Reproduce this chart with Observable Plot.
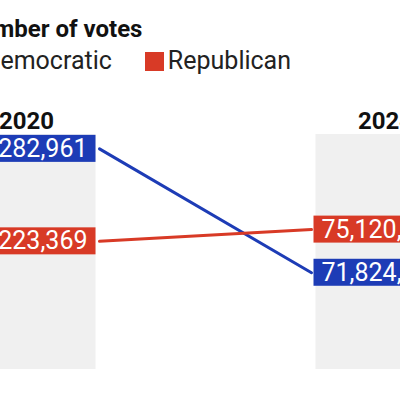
<!DOCTYPE html>
<html>
<head>
<meta charset="utf-8">
<script src="https://cdn.jsdelivr.net/npm/d3@7"></script>
<script src="https://cdn.jsdelivr.net/npm/@observablehq/plot@0.6"></script>
<style>
  html, body { margin: 0; padding: 0; background: #fff; overflow: hidden; }
  body { width: 400px; height: 400px; position: relative; font-family: Roboto, "Noto Sans", sans-serif; color: #111; }
  #wrap { position: absolute; left: -41px; top: 0; width: 520px; height: 400px; }
  #title { position: absolute; left: 4px; top: 15px; font-size: 24px; font-weight: 700; line-height: 28px; white-space: nowrap; color: #111; }
  #legend { position: absolute; left: 2px; top: 46px; font-size: 25px; line-height: 30px; white-space: nowrap; color: #222; }
  .item { display: inline-block; margin-right: 33px; }
  .sw { display: inline-block; width: 19px; height: 19px; vertical-align: -2px; margin-right: 4px; }
  #chart { position: absolute; left: 0; top: 100px; }
</style>
</head>
<body>
<div id="wrap">
  <div id="title"></div>
  <div id="legend"></div>
  <div id="chart"></div>
</div>
<script>
const titleText = "Number of votes";
const years = ["2020", "2024"];
const parties = ["Democratic", "Republican"];
const partyColors = ["#1d3cb6", "#d83a26"];
const democraticVotes = [81282961, 71824000];
const republicanVotes = [74223369, 75120000];

const rows = [];
years.forEach((year, i) => {
  rows.push({year, party: parties[0], votes: democraticVotes[i]});
  rows.push({year, party: parties[1], votes: republicanVotes[i]});
});

document.getElementById("title").textContent = titleText;
const legend = document.getElementById("legend");
parties.forEach((p, i) => {
  const item = document.createElement("span");
  item.className = "item";
  const sw = document.createElement("span");
  sw.className = "sw";
  sw.style.background = partyColors[i];
  item.appendChild(sw);
  item.appendChild(document.createTextNode(p));
  legend.appendChild(item);
});

const fmt = d3.format(",");

const plot = Plot.plot({
  width: 520,
  height: 280,
  marginTop: 34,
  marginBottom: 11,
  marginLeft: 0,
  marginRight: 0,
  style: {fontFamily: "Roboto, 'Noto Sans', sans-serif", background: "transparent"},
  x: {type: "point", domain: years, range: [140, 352], padding: 0, axis: null},
  y: {domain: [64.44e6, 82.38e6], axis: null},
  color: {domain: parties, range: partyColors},
  marks: [
    Plot.tickX([years[0]], {x: d => d, stroke: "#f0f0f0", strokeWidth: 136, dx: -72}),
    Plot.tickX([years[1]], {x: d => d, stroke: "#f0f0f0", strokeWidth: 136, dx: 72}),
    Plot.text([years[0]], {x: d => d, text: d => d, frameAnchor: "top", lineAnchor: "bottom", dy: -6, dx: -73, fontSize: 24, fontWeight: "bold", fill: "#111"}),
    Plot.text([years[1]], {x: d => d, text: d => d, frameAnchor: "top", lineAnchor: "bottom", dy: -6, dx: 74, fontSize: 24, fontWeight: "bold", fill: "#111"}),
    Plot.line(rows, {x: "year", y: "votes", z: "party", stroke: "party", strokeWidth: 3}),
    Plot.text(rows.filter(d => d.year === years[0]), {x: "year", y: "votes", text: d => fmt(d.votes), fill: "party", textAnchor: "end", dx: -12, fontSize: 25}),
    Plot.text(rows.filter(d => d.year === years[1]), {x: "year", y: "votes", text: d => fmt(d.votes), fill: "party", textAnchor: "start", dx: 10, fontSize: 25})
  ]
});
document.getElementById("chart").appendChild(plot);

// label background boxes: value labels are the texts filled with a party colour
const colorSet = new Set(partyColors.map(c => d3.color(c).formatHex()));
plot.querySelectorAll("text").forEach(t => {
  let fill = t.getAttribute("fill") || (t.parentNode && t.parentNode.getAttribute && t.parentNode.getAttribute("fill"));
  if (!fill) return;
  const c = d3.color(fill);
  if (!c || !colorSet.has(c.formatHex())) return;
  const bb = t.getBBox();
  const tr = t.getAttribute("transform");
  const rect = document.createElementNS("http://www.w3.org/2000/svg", "rect");
  const cy = bb.y + bb.height / 2;
  rect.setAttribute("x", bb.x - 8);
  rect.setAttribute("y", cy - 13.5);
  rect.setAttribute("width", bb.width + 16);
  rect.setAttribute("height", 27);
  rect.setAttribute("fill", fill);
  if (tr) rect.setAttribute("transform", tr);
  t.parentNode.insertBefore(rect, t);
  t.setAttribute("fill", "#fff");
});
</script>
</body>
</html>
